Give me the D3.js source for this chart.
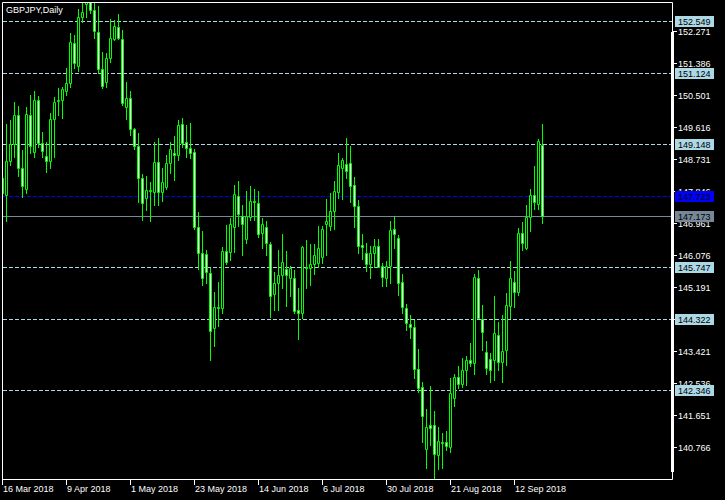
<!DOCTYPE html>
<html><head><meta charset="utf-8">
<script src="https://cdn.jsdelivr.net/npm/d3@7"></script>
<style>html,body{margin:0;padding:0;background:#000;overflow:hidden}</style>
</head><body><svg id="c" width="725" height="500"></svg>
<script>
const symbolTitle = "GBPJPY,Daily";
const firstDate = "2018-03-16";
const opens = [148.220,147.747,148.695,149.157,149.959,148.485,147.904,149.959,148.927,150.373,149.176,148.825,148.695,149.848,150.337,150.373,150.630,150.835,151.941,151.322,152.660,153.027,153.190,152.861,152.245,151.222,150.879,151.526,152.051,152.383,152.051,150.171,150.420,149.563,149.102,148.208,147.656,147.885,147.838,148.651,147.838,147.976,148.623,148.916,148.853,149.710,149.220,149.038,148.927,146.854,146.135,146.107,145.582,144.061,144.659,144.614,146.199,146.179,146.854,147.727,147.175,146.522,147.130,147.581,147.517,146.705,146.854,146.384,145.001,145.306,145.535,145.701,145.460,145.444,144.567,144.476,145.765,145.737,145.831,145.859,146.041,146.937,146.898,147.313,147.838,148.485,148.596,148.623,148.023,147.443,146.364,146.135,145.831,146.152,146.337,145.792,145.444,145.792,146.807,146.550,145.333,144.614,144.180,144.089,142.928,142.447,140.716,141.388,141.388,140.559,140.926,140.910,140.788,142.126,142.707,142.513,142.909,143.185,143.094,145.444,144.310,143.398,143.204,143.185,143.876,143.138,143.461,144.686,145.350,145.073,146.688,146.290,147.130,147.747,147.490,149.129];
const highs = [148.300,149.710,149.820,150.326,150.207,148.991,150.180,150.512,150.630,150.484,149.497,149.220,150.006,150.448,150.697,150.724,151.250,152.217,152.170,152.881,153.055,153.410,153.300,153.046,152.972,151.709,151.681,152.604,152.585,152.751,152.309,150.879,150.630,149.591,149.469,148.327,148.272,148.115,149.220,149.314,148.485,148.853,149.212,149.378,149.820,149.880,149.682,149.746,149.010,147.285,146.752,146.226,145.720,145.073,145.333,146.317,146.917,147.119,148.023,148.134,147.470,147.857,147.996,147.913,147.857,147.103,147.028,146.456,145.626,146.226,146.669,146.199,145.792,145.673,145.167,146.337,146.503,146.392,146.392,146.890,146.890,147.636,147.794,148.134,148.916,148.778,149.314,149.102,148.253,147.609,146.669,146.411,146.337,146.530,146.530,145.858,145.922,147.028,147.175,146.641,145.563,144.733,144.429,144.291,143.489,142.568,141.822,142.466,141.775,141.341,141.159,141.222,142.679,142.798,143.019,143.248,143.295,143.663,145.563,145.673,144.706,143.710,143.370,144.954,144.244,144.429,145.029,145.922,145.646,146.843,147.009,147.470,147.904,148.549,149.295,149.710];
const lows = [147.720,147.036,148.576,148.806,148.272,147.683,147.802,148.908,148.806,149.082,148.806,148.391,148.485,148.806,149.959,149.867,150.512,150.724,151.250,151.183,152.538,152.660,152.787,152.079,151.111,150.697,150.741,151.432,152.032,152.051,150.235,149.840,149.406,149.010,147.562,147.056,147.332,147.036,147.470,147.470,147.589,147.913,148.347,148.162,148.714,149.082,148.806,148.762,146.800,145.693,145.259,145.306,143.185,143.572,144.133,144.493,145.839,145.950,146.179,146.890,146.088,146.412,147.056,147.056,146.594,146.290,146.088,144.382,144.567,144.567,145.167,144.686,144.954,144.493,143.766,144.338,145.184,145.259,145.563,145.748,145.875,146.088,146.779,146.799,147.656,147.636,148.208,147.562,146.870,146.152,145.969,145.654,145.444,145.765,145.748,145.239,145.239,145.322,146.290,144.982,144.493,144.014,143.801,142.696,142.309,140.926,140.207,140.835,139.812,140.171,140.207,140.697,140.650,141.922,142.403,142.447,142.494,143.019,142.798,144.338,143.461,142.798,142.585,142.632,142.909,142.585,143.047,144.338,144.659,144.982,146.226,146.254,146.760,147.351,147.351,146.981];
const closes = [147.800,148.695,149.157,149.959,148.485,148.004,149.978,149.110,150.373,149.176,148.972,148.695,149.848,150.310,150.373,150.669,150.835,151.969,151.388,152.660,152.798,153.220,152.861,152.289,151.222,150.760,151.526,152.079,152.419,152.079,150.299,150.420,149.563,149.102,148.208,147.534,147.885,147.844,148.651,147.838,148.115,148.623,149.010,148.853,149.682,149.193,149.038,148.900,146.870,146.152,145.444,145.610,143.995,144.642,144.614,146.199,145.903,146.937,147.774,147.222,146.937,147.166,147.581,147.553,146.660,146.937,146.412,144.963,145.306,145.535,145.886,145.535,145.737,144.540,144.476,146.317,145.720,145.831,146.088,146.273,146.807,147.028,147.305,147.857,148.576,148.714,148.419,148.004,147.443,146.337,146.317,145.831,146.152,146.337,145.765,145.488,145.792,146.779,146.660,145.306,144.659,144.200,144.106,142.928,142.419,141.645,141.324,141.297,140.578,140.946,140.899,140.816,142.264,142.723,142.513,142.909,143.185,143.094,145.471,144.350,143.951,142.956,142.909,143.923,143.138,143.434,144.706,145.444,145.073,146.688,146.428,147.130,147.747,147.562,149.240,147.173];
const priceTicks = [152.271,151.386,150.501,149.616,148.731,147.846,146.961,146.076,145.191,144.306,143.421,142.536,141.651,140.766];
const levelLines = [152.549,151.124,149.148,145.747,144.322,142.346];
const askLevel = 147.723;
const bidLevel = 147.173;
const dateTickEvery = 16;

const n = opens.length;
const svg = d3.select('#c');
svg.append('rect').attr('width',725).attr('height',500).attr('fill','#000');

// trading-day dates (Mon-Fri) from first date
const dates = [];
{ const d = new Date(firstDate + "T12:00:00"); while (dates.length < n) { if (d.getDay() % 6 !== 0) dates.push(new Date(d)); d.setDate(d.getDate() + 1); } }
const fmt = d3.timeFormat("%-d %b %Y");

const x = d3.scaleBand().domain(d3.range(n)).range([0.5, 0.5 + 4 * n]).padding(0);
const y = d3.scaleLinear().domain([139.895, 153.082]).range([479, 2]);
const py = v => Math.round(y(v));
const FONT = "'Liberation Sans', Arial, sans-serif";
const LIME = "#00ff00";

svg.append('defs').append('clipPath').attr('id','plot')
  .append('rect').attr('x',3).attr('y',3).attr('width',669).attr('height',476);

// level lines
const lv = svg.append('g').attr('clip-path','url(#plot)');
levelLines.forEach(v => {
  lv.append('line').attr('x1',3).attr('x2',672).attr('y1',py(v)+0.5).attr('y2',py(v)+0.5)
    .attr('stroke','#add8e6').attr('stroke-width',1).attr('stroke-dasharray','4,2');
});
lv.append('line').attr('x1',3).attr('x2',672).attr('y1',py(askLevel)+0.5).attr('y2',py(askLevel)+0.5)
  .attr('stroke','#0000ff').attr('stroke-width',1).attr('stroke-dasharray','4,2');
lv.append('line').attr('x1',3).attr('x2',672).attr('y1',py(bidLevel)+0.5).attr('y2',py(bidLevel)+0.5)
  .attr('stroke','#778899').attr('stroke-width',1);

// candles
const cg = svg.append('g').attr('clip-path','url(#plot)');
const idx = d3.range(n);
cg.selectAll('line.wick').data(idx).join('line').attr('class','wick')
  .attr('x1', i => x(i) + 2).attr('x2', i => x(i) + 2)
  .attr('y1', i => py(highs[i])).attr('y2', i => py(lows[i]) + 1)
  .attr('stroke', LIME).attr('stroke-width', 1);
cg.selectAll('path.body').data(idx).join('path').attr('class','body')
  .attr('d', i => {
    const cx = x(i) + 2;
    const t = Math.min(py(opens[i]), py(closes[i])) + 0.5;
    const b = Math.max(py(opens[i]), py(closes[i])) + 0.5;
    return `M${cx-1},${t}H${cx+1}V${b}H${cx-1}Z`;
  })
  .attr('fill', i => closes[i] < opens[i] ? '#ffffff' : '#000000')
  .attr('stroke', LIME).attr('stroke-width', 1);

// frame
svg.append('path').attr('d','M2.5,2.5H672.5V479.5H2.5Z').attr('fill','none').attr('stroke','#fff').attr('stroke-width',1);
svg.append('rect').attr('x',671).attr('y',32).attr('width',3).attr('height',440).attr('fill','#fff');

// price axis
const pa = svg.append('g');
priceTicks.forEach(v => {
  const r = py(v);
  pa.append('line').attr('x1',673).attr('x2',677).attr('y1',r+0.5).attr('y2',r+0.5).attr('stroke','#fff');
  pa.append('text').attr('x',678).attr('y',r+4).attr('fill','#fff').attr('font-family',FONT).attr('font-size','9px').text(v.toFixed(3));
});
function box(v, bg, fg) {
  const r = py(v);
  pa.append('rect').attr('x',675).attr('y',r-5).attr('width',39).attr('height',11).attr('fill',bg);
  pa.append('text').attr('x',678).attr('y',r+4).attr('fill',fg).attr('font-family',FONT).attr('font-size','9px').text(v.toFixed(3));
}
levelLines.forEach(v => box(v, '#add8e6', '#000'));
box(askLevel, '#0000ff', '#000');
box(bidLevel, '#778899', '#000');

// time axis
const ta = svg.append('g');
idx.filter(i => i % dateTickEvery === 0).forEach(i => {
  const cx = x(i) + 2;
  ta.append('line').attr('x1',cx).attr('x2',cx).attr('y1',479).attr('y2',485).attr('stroke','#fff');
  ta.append('text').attr('x',cx+0.5).attr('y',492).attr('fill','#fff').attr('font-family',FONT).attr('font-size','9px').text(fmt(dates[i]));
});

// title
svg.append('text').attr('x',6).attr('y',13).attr('fill','#fff').attr('font-family',FONT).attr('font-size','9px').text(symbolTitle);
</script>
</body></html>
